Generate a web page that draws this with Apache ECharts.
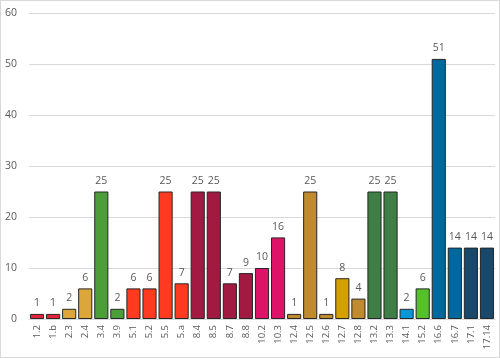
<!DOCTYPE html>
<html><head><meta charset="utf-8">
<script src="https://cdn.jsdelivr.net/npm/echarts@6/dist/echarts.min.js"></script>
<style>html,body{margin:0;padding:0;background:#fff}#c{width:498px;height:356px;border:1px solid #d9d9d9}</style>
</head><body><div id="c"></div>
<script>
const categories = ['1.2','1.b','2.3','2.4','3.4','3.9','5.1','5.2','5.5','5.a','8.4','8.5','8.7','8.8','10.2','10.3','12.4','12.5','12.6','12.7','12.8','13.2','13.3','14.1','15.2','16.6','16.7','17.1','17.14'];
const values = [1,1,2,6,25,2,6,6,25,7,25,25,7,9,10,16,1,25,1,8,4,25,25,2,6,51,14,14,14];
const colors = ['#E5243B','#E5243B','#DDA63A','#DDA63A','#4C9F38','#4C9F38','#FF3A21','#FF3A21','#FF3A21','#FF3A21','#A21942','#A21942','#A21942','#A21942','#DD1367','#DD1367','#BF8B2E','#BF8B2E','#BF8B2E','#D4A000','#BF8B2E','#3F7E44','#3F7E44','#0A97D9','#56C02B','#00689D','#00689D','#19486A','#19486A'];
const chart = echarts.init(document.getElementById('c'));
chart.setOption({
  animation:false,
  grid:{left:28,right:4,top:12,bottom:38},
  xAxis:{type:'category',data:categories,
    axisLine:{lineStyle:{color:'#d9d9d9'}},axisTick:{show:false},
    axisLabel:{rotate:90,color:'#595959',fontSize:9.5,fontFamily:'Open Sans',interval:0,margin:6}},
  yAxis:{type:'value',min:0,max:60,interval:10,
    axisLabel:{color:'#595959',fontSize:10.5,fontFamily:'Open Sans',margin:12},
    splitLine:{lineStyle:{color:'#d9d9d9'}}},
  series:[{type:'bar',barCategoryGap:'12%',
    data:values.map((v,i)=>({value:v,itemStyle:{color:colors[i]}})),
    itemStyle:{borderColor:'#262626',borderWidth:1},
    label:{show:true,position:'top',color:'#595959',fontSize:10.5,fontFamily:'Open Sans',distance:5}}]
});
</script></body></html>
